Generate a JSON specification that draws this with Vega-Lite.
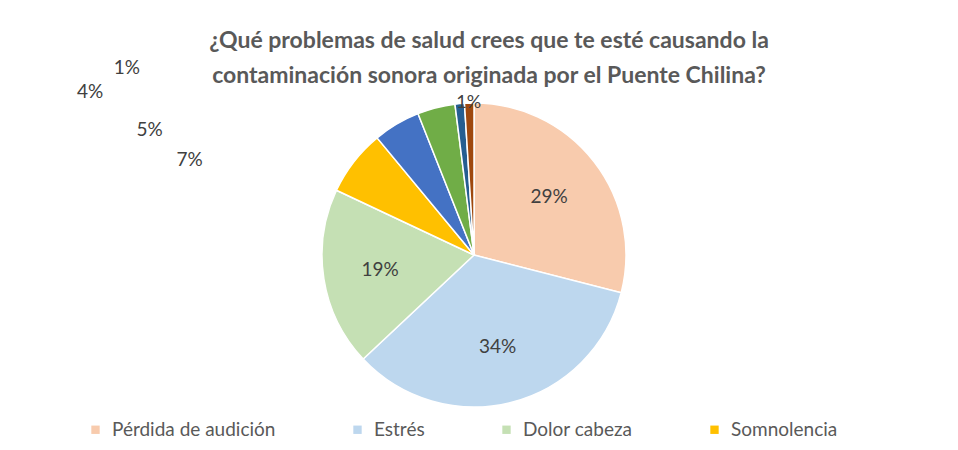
{
  "$schema": "https://vega.github.io/schema/vega-lite/v6.json",
  "width": 948,
  "height": 370,
  "autosize": "none",
  "padding": {"top": 70, "bottom": 0, "left": 0, "right": 0},
  "background": "white",
  "title": {
    "text": ["¿Qué problemas de salud crees que te esté causando la", "contaminación sonora originada por el Puente Chilina?"],
    "font": "Lato",
    "fontSize": 23,
    "fontWeight": "bold",
    "color": "#595959",
    "anchor": "middle",
    "baseline": "top",
    "lineHeight": 35,
    "offset": 0,
    "dx": 15,
    "dy": 30
  },
  "data": {
    "values": [
      {"categoria": "Pérdida de audición", "valor": 0.29, "orden": 1},
      {"categoria": "Estrés", "valor": 0.34, "orden": 2},
      {"categoria": "Dolor cabeza", "valor": 0.19, "orden": 3},
      {"categoria": "Somnolencia", "valor": 0.07, "orden": 4},
      {"categoria": "Otro 1", "valor": 0.05, "orden": 5},
      {"categoria": "Otro 2", "valor": 0.04, "orden": 6},
      {"categoria": "Otro 3", "valor": 0.01, "orden": 7},
      {"categoria": "Otro 4", "valor": 0.01, "orden": 8}
    ]
  },
  "encoding": {
    "theta": {"field": "valor", "type": "quantitative", "stack": true},
    "order": {"field": "orden", "type": "quantitative"},
    "detail": {"field": "categoria", "type": "nominal"}
  },
  "layer": [
    {
      "mark": {"type": "arc", "outerRadius": 152, "stroke": "white", "strokeWidth": 1.5},
      "encoding": {
        "color": {
          "field": "categoria",
          "type": "nominal",
          "scale": {
            "domain": ["Pérdida de audición", "Estrés", "Dolor cabeza", "Somnolencia", "Otro 1", "Otro 2", "Otro 3", "Otro 4"],
            "range": ["#F8CBAD", "#BDD7EE", "#C5E0B4", "#FFC000", "#4472C4", "#70AD47", "#255E91", "#9E480E"]
          },
          "legend": {
            "values": ["Pérdida de audición", "Estrés", "Dolor cabeza", "Somnolencia"],
            "title": null,
            "orient": "none",
            "legendX": 86,
            "legendY": 350,
            "direction": "horizontal",
            "symbolType": "square",
            "symbolSize": 70,
            "symbolStrokeWidth": 0,
            "labelFont": "Lato",
            "labelFontSize": 19,
            "labelColor": "#595959",
            "labelLimit": 400,
            "columnPadding": 72,
            "labelOffset": 7
          }
        }
      }
    },
    {
      "mark": {"type": "text", "radius": 95, "font": "Lato", "fontSize": 19},
      "encoding": {
        "color": {"value": "#404040"},
        "text": {
          "condition": {"test": "datum.valor >= 0.1", "field": "valor", "type": "quantitative", "format": ".0%"},
          "value": ""
        }
      }
    },
    {
      "mark": {"type": "text", "radius": 160, "dx": -158, "dy": 3, "font": "Lato", "fontSize": 19},
      "encoding": {
        "color": {"value": "#404040"},
        "text": {
          "condition": {"test": "datum.orden == 4", "field": "valor", "type": "quantitative", "format": ".0%"},
          "value": ""
        }
      }
    },
    {
      "mark": {"type": "text", "radius": 160, "dx": -243, "dy": 13, "font": "Lato", "fontSize": 19},
      "encoding": {
        "color": {"value": "#404040"},
        "text": {
          "condition": {"test": "datum.orden == 5", "field": "valor", "type": "quantitative", "format": ".0%"},
          "value": ""
        }
      }
    },
    {
      "mark": {"type": "text", "radius": 160, "dx": -344, "dy": -8, "font": "Lato", "fontSize": 19},
      "encoding": {
        "color": {"value": "#404040"},
        "text": {
          "condition": {"test": "datum.orden == 6", "field": "valor", "type": "quantitative", "format": ".0%"},
          "value": ""
        }
      }
    },
    {
      "mark": {"type": "text", "radius": 160, "dx": -332, "dy": -28, "font": "Lato", "fontSize": 19},
      "encoding": {
        "color": {"value": "#404040"},
        "text": {
          "condition": {"test": "datum.orden == 7", "field": "valor", "type": "quantitative", "format": ".0%"},
          "value": ""
        }
      }
    },
    {
      "mark": {"type": "text", "radius": 168, "dy": 16, "font": "Lato", "fontSize": 18},
      "encoding": {
        "color": {"value": "#404040"},
        "text": {
          "condition": {"test": "datum.orden == 8", "field": "valor", "type": "quantitative", "format": ".0%"},
          "value": ""
        }
      }
    }
  ],
  "config": {"view": {"stroke": null}}
}
